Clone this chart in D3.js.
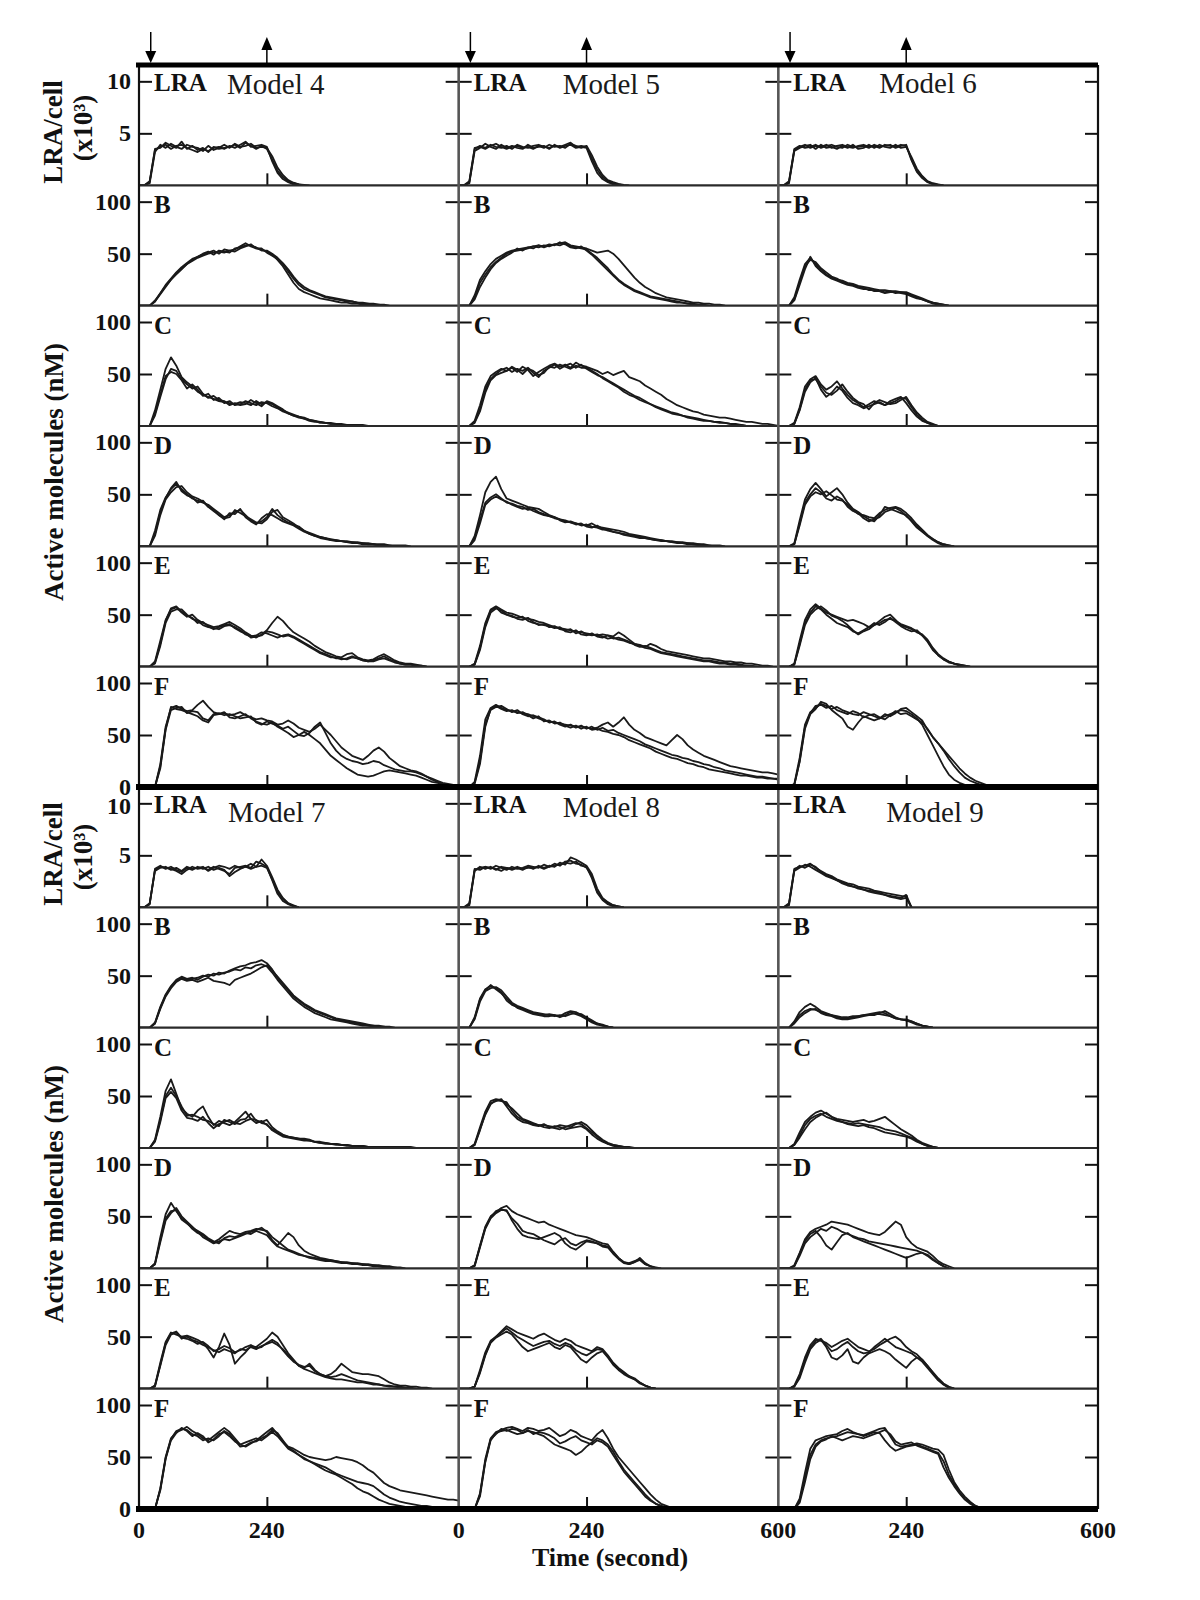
<!DOCTYPE html>
<html>
<head>
<meta charset="utf-8">
<script src="https://cdn.jsdelivr.net/npm/d3@7"></script>
<style>
  body { margin: 0; background: #fff; }
  svg { display: block; }
</style>
</head>
<body>
<script>
// time step of the sampled traces (seconds)
var timeStep = 10;
var arrowTimes = [22, 240];          // stimulus on / off arrows
var panelNames = ["LRA", "B", "C", "D", "E", "F"];
var modelNames = ["Model 4", "Model 5", "Model 6", "Model 7", "Model 8", "Model 9"];
var lraTicks = [5, 10];
var nmTicks = [50, 100];
var xTickLabels = [[0, 240], [0, 240, 600], [240, 600]];

// ---- Model 4 ----
var m4LRA = [
  [0,0,0.4,3.4,3.7,3.9,3.5,3.8,3.9,3.6,3.4,3.2,3.5,3.3,3.6,3.7,3.5,3.8,3.6,3.9,4.2,3.7,3.8,3.9,3.7,2.3,1.2,0.6,0.3,0.1,0],
  [0,0,0.2,3.2,3.9,3.6,4.0,3.7,3.5,3.9,3.7,3.6,3.3,3.8,3.4,3.6,3.9,3.6,4.0,3.7,3.8,4.0,3.6,3.7,3.6,2.8,1.7,1.0,0.5,0.25,0.1,0.05,0],
  [0,0,0.3,3.5,3.6,4.1,3.8,3.6,4.2,3.5,3.8,3.4,3.6,3.2,3.7,3.5,3.6,3.7,3.9,3.6,4.1,3.8,3.5,3.8,3.5,2.5,1.4,0.8,0.4,0.2,0.1,0]
];
var m4B = [
  [0,0,0,4,11,18,25,31,36,40,43,46,48,50,51,52,51,53,54,57,60,57,55,54,52,49,44,38,30,22,16,13,11,9,7,6,5,4,3,3,2,2,1,1,1,0],
  [0,0,0,5,12,20,26,32,37,41,45,47,50,52,49,53,52,51,55,56,58,58,56,53,53,50,46,41,35,28,22,18,15,13,11,9,8,7,6,5,4,3,3,2,2,1,1,0],
  [0,0,0,4,12,19,25,30,35,40,44,47,49,51,53,50,54,53,52,55,57,59,55,55,51,48,45,40,33,26,20,16,14,12,10,8,7,6,5,4,4,3,2,2,1,1,0]
];
var m4C = [
  [0,0,0,15,35,55,66,58,47,42,38,33,30,28,26,24,23,22,21,23,22,20,24,21,23,21,18,15,13,11,9,8,6,5,4,3,3,2,2,1,1,1,1,0],
  [0,0,0,12,30,48,52,50,44,36,40,35,29,31,25,27,22,24,20,21,24,22,20,23,22,19,17,14,12,10,8,7,5,4,4,3,2,2,1,1,1,0],
  [0,0,0,10,28,45,55,53,45,40,36,38,31,27,29,25,24,20,22,20,21,25,22,19,24,22,19,16,12,10,9,7,6,5,3,3,2,2,1,1,0]
];
var m4D = [
  [0,0,0,15,35,47,55,60,55,50,46,44,42,40,36,32,28,30,33,35,30,25,22,24,28,36,30,26,23,21,19,15,12,10,9,8,7,6,5,5,4,4,3,3,2,2,2,1,1,1,1,0],
  [0,0,0,10,30,45,52,57,58,52,48,46,43,38,35,30,26,32,31,36,28,24,21,27,31,30,27,24,22,20,17,14,12,10,8,7,6,5,5,4,4,3,3,2,2,1,1,1,0],
  [0,0,0,12,33,46,56,62,53,49,47,42,44,38,34,30,27,28,35,32,29,26,23,22,26,33,35,28,25,22,18,15,13,11,9,8,6,6,5,4,3,3,2,2,2,1,1,0]
];
var m4E = [
  [0,0,0,5,25,45,55,57,52,48,50,45,42,40,38,39,41,43,40,37,33,30,28,31,35,42,48,44,38,33,30,27,24,20,17,14,12,10,9,12,13,9,7,6,7,10,12,9,6,4,3,3,2,1,0],
  [0,0,0,3,20,42,53,55,55,50,46,44,40,38,37,36,39,40,38,35,31,29,30,33,32,30,28,30,31,29,26,23,20,17,14,12,10,8,8,7,9,8,6,5,5,7,8,6,4,3,2,2,1,1,0],
  [0,0,0,4,22,44,56,58,53,49,47,42,43,39,36,38,40,41,37,34,32,28,29,30,34,33,31,29,30,28,25,22,19,16,13,11,9,9,7,8,10,8,6,5,6,8,10,7,5,3,2,2,1,0]
];
var m4F = [
  [0,0,0,0,22,58,76,78,75,73,74,79,83,77,72,70,71,69,70,72,69,67,65,66,64,63,60,61,64,61,57,55,53,56,60,55,50,44,38,34,30,28,26,30,35,38,34,28,24,20,18,16,15,13,10,7,5,3,2,1,0],
  [0,0,0,0,18,55,74,76,77,71,73,72,66,64,70,71,69,70,68,66,67,68,62,60,63,61,59,56,58,54,50,49,52,58,62,52,42,35,30,27,25,24,22,23,25,24,21,19,17,16,15,15,14,12,10,8,6,4,3,2,1],
  [0,0,0,0,20,56,77,75,74,72,70,68,64,62,69,70,72,67,66,68,70,66,63,61,60,62,58,55,52,48,50,53,50,46,42,36,30,26,22,18,15,12,11,10,11,13,15,16,15,14,13,12,11,9,7,5,4,3,2,1,0]
];

// ---- Model 5 ----
var m5LRA = [
  [0,0,0.3,3.5,3.8,3.6,3.9,3.7,3.6,3.8,3.5,3.9,3.7,3.6,3.8,3.9,3.7,3.6,3.8,3.7,3.9,4.1,3.7,3.8,3.7,2.6,1.5,0.8,0.4,0.2,0.1,0],
  [0,0,0.2,3.3,3.6,4.0,3.7,3.5,3.9,3.6,3.8,3.6,3.5,3.9,3.6,3.7,3.8,3.5,3.9,3.6,3.8,3.9,3.6,3.7,3.6,2.3,1.2,0.6,0.3,0.1,0],
  [0,0,0.4,3.6,3.7,3.5,3.8,4.0,3.7,3.5,3.7,3.8,3.6,3.7,3.5,3.8,3.6,3.9,3.7,3.8,3.6,4.0,3.8,3.6,3.8,2.9,1.8,1.0,0.5,0.3,0.15,0.05,0]
];
var m5B = [
  [0,0,0,10,25,33,40,45,48,51,53,54,55,56,57,58,56,58,59,60,61,58,57,56,55,53,51,52,53,50,45,39,33,27,22,18,15,12,10,8,7,6,5,4,3,3,2,2,1,1,0],
  [0,0,0,8,22,30,37,42,46,50,52,53,54,55,57,56,58,57,59,58,60,57,56,55,54,50,46,41,36,30,25,21,18,15,13,11,9,8,7,6,5,4,3,2,2,1,1,0],
  [0,0,0,6,18,27,35,41,45,48,51,55,53,56,55,58,57,59,58,61,59,56,55,57,53,49,44,39,34,29,24,20,17,14,12,10,8,7,6,5,4,3,3,2,1,1,0]
];
var m5C = [
  [0,0,0,5,20,38,48,52,55,53,56,52,57,54,48,52,55,58,60,57,59,56,61,58,57,55,53,50,52,49,51,53,47,45,43,39,36,33,30,26,23,20,18,16,14,13,11,10,9,8,8,7,6,5,4,4,3,2,2,1,0],
  [0,0,0,4,16,35,45,50,54,56,52,55,53,56,51,47,53,56,59,55,58,60,56,59,55,52,49,47,44,41,38,35,32,29,27,24,21,19,17,15,13,12,10,9,8,7,6,5,4,4,3,2,2,1,0],
  [0,0,0,3,14,32,44,49,51,53,57,54,50,55,53,49,51,57,56,59,57,55,58,56,56,53,50,46,43,40,37,33,30,28,25,23,21,18,16,14,12,11,10,8,7,6,5,5,4,3,3,2,1,1,0]
];
var m5D = [
  [0,0,0,10,30,52,62,67,55,46,44,42,40,38,37,36,33,30,28,26,25,23,22,21,20,22,19,18,17,16,15,14,12,11,10,9,8,7,6,5,5,4,4,3,3,2,2,1,1,1,0],
  [0,0,0,8,25,42,47,50,46,42,41,39,38,35,36,33,31,29,27,26,24,23,21,22,19,18,20,17,15,14,13,12,11,10,9,8,7,6,6,5,4,4,3,3,2,2,1,1,0],
  [0,0,0,6,22,40,45,48,45,43,40,38,36,37,34,32,30,29,28,25,23,24,22,20,21,19,18,16,16,14,13,11,10,9,8,8,7,6,5,5,4,3,3,2,2,1,1,0]
];
var m5E = [
  [0,0,0,3,20,42,55,58,55,52,51,49,47,46,45,43,42,40,38,37,36,35,34,33,32,31,30,31,30,29,33,30,26,22,21,19,22,20,17,15,14,13,12,11,10,9,8,8,7,6,5,5,4,4,3,3,2,1,1,0],
  [0,0,0,2,16,38,52,56,54,50,48,47,48,44,42,41,40,39,37,38,34,33,35,31,30,32,29,28,30,27,28,26,24,21,19,20,18,16,14,13,12,11,10,9,8,7,6,6,5,4,4,3,3,2,1,1,0],
  [0,0,0,2,18,40,54,57,52,50,49,46,45,47,43,40,41,38,39,36,35,36,32,34,31,30,31,29,27,28,26,25,23,22,20,18,17,15,13,12,11,10,9,8,7,6,5,5,4,3,3,2,2,1,0]
];
var m5F = [
  [0,0,0,5,30,65,76,79,76,74,73,72,71,70,68,66,64,63,62,61,60,59,58,58,57,56,57,60,62,58,62,67,60,55,52,48,46,44,42,40,45,50,46,40,36,33,30,28,26,24,22,20,19,18,17,16,15,14,14,13,12],
  [0,0,0,4,25,60,74,77,78,75,72,74,70,68,69,67,65,62,63,60,58,60,57,59,56,58,55,57,54,55,52,50,48,46,44,41,39,37,35,33,31,30,28,27,25,24,22,21,19,18,16,15,14,13,12,11,10,10,9,8,8],
  [0,0,0,3,22,58,75,78,75,73,74,71,72,69,66,68,63,64,61,62,59,57,59,56,58,55,56,54,53,51,50,48,45,43,41,39,37,34,32,30,28,27,25,23,22,20,19,17,16,15,14,13,12,11,11,10,9,9,8,8,7]
];

// ---- Model 6 ----
var m6LRA = [
  [0,0,0.3,3.4,3.7,3.9,3.6,3.8,3.7,3.9,3.6,3.8,3.9,3.7,3.6,3.8,3.9,3.7,3.8,3.6,3.9,3.8,3.7,3.9,3.8,2.4,1.3,0.7,0.3,0.1,0],
  [0,0,0.2,3.3,3.6,3.8,3.9,3.5,3.9,3.6,3.7,3.5,3.8,3.6,3.9,3.5,3.6,3.9,3.6,3.9,3.7,3.6,3.9,3.6,3.7,2.7,1.6,0.9,0.4,0.2,0.1,0],
  [0,0,0.4,3.5,3.8,3.6,3.7,3.9,3.6,3.8,3.9,3.7,3.6,3.9,3.7,3.7,3.8,3.6,3.9,3.7,3.8,3.9,3.6,3.8,3.9,2.5,1.4,0.8,0.35,0.15,0.05,0]
];
var m6B = [
  [0,0,0,8,25,40,46,40,35,30,27,25,24,22,21,19,18,17,16,15,15,14,14,13,13,11,9,7,5,3,2,1,0],
  [0,0,0,6,22,38,44,42,36,32,28,26,23,21,20,18,17,15,15,14,13,14,12,13,12,10,8,6,4,3,2,1,0],
  [0,0,0,5,20,35,47,38,33,29,26,24,22,20,19,17,16,16,14,14,12,13,13,12,11,9,7,6,4,2,1,0]
];
var m6C = [
  [0,0,0,3,18,38,45,48,40,35,38,43,36,30,25,22,18,21,24,22,20,24,26,28,22,15,9,5,3,1,0],
  [0,0,0,2,15,33,42,46,35,28,32,38,34,27,22,20,17,19,21,23,20,22,24,27,26,18,11,6,3,1,0],
  [0,0,0,2,16,35,44,45,38,32,30,34,40,33,27,23,21,16,22,25,23,21,22,25,28,20,13,8,4,2,0]
];
var m6D = [
  [0,0,0,3,25,45,55,61,55,48,52,56,50,42,36,33,29,26,24,30,38,36,34,32,30,24,18,14,10,7,4,2,1,0],
  [0,0,0,2,20,40,48,52,50,53,49,45,44,40,35,31,30,28,27,32,35,37,38,36,32,27,21,16,11,7,4,2,1,0],
  [0,0,0,2,22,42,50,56,52,46,44,48,45,38,34,32,27,24,26,28,33,35,37,34,29,25,19,15,10,6,3,1,0]
];
var m6E = [
  [0,0,0,3,25,45,55,60,56,52,50,48,46,44,45,43,41,38,40,44,48,50,45,40,38,36,33,31,26,18,12,8,5,3,2,1,0],
  [0,0,0,2,20,40,50,55,58,54,49,47,44,40,35,31,34,36,40,42,45,46,44,41,39,37,34,30,24,16,11,7,4,3,1,0],
  [0,0,0,2,22,42,52,58,55,50,46,42,40,38,34,32,35,38,42,40,43,47,43,39,36,34,35,30,25,17,11,7,5,3,2,1,0]
];
var m6F = [
  [0,0,0,3,28,60,72,76,80,78,75,77,74,72,70,69,72,70,68,66,68,70,72,74,73,70,66,60,50,40,30,20,12,7,4,2,1,0],
  [0,0,0,2,24,56,70,75,82,80,74,70,66,58,55,62,68,66,64,66,70,68,71,75,76,72,68,64,55,48,42,35,27,20,14,9,6,4,2,1,0],
  [0,0,0,2,25,58,71,78,79,76,78,74,72,70,73,71,67,69,70,67,65,69,73,70,71,68,65,62,56,48,42,36,30,24,18,13,9,6,4,2,1,0]
];

// ---- Model 7 ----
var m7LRA = [
  [0,0,0.4,3.6,3.9,3.8,3.7,3.5,3.2,3.6,3.9,3.7,3.8,3.6,3.9,3.7,3.5,3.2,3.8,3.9,4.0,3.8,4.4,4.2,3.9,2.6,1.3,0.6,0.3,0.1,0],
  [0,0,0.3,3.5,3.8,3.9,3.6,3.8,3.5,3.9,3.7,3.8,3.9,3.5,3.8,4.0,3.9,3.7,4.0,3.8,3.9,4.2,3.9,4.6,4.0,2.9,1.7,0.9,0.4,0.2,0],
  [0,0,0.3,3.7,4.0,3.7,3.9,3.6,3.4,3.8,3.6,3.9,3.7,3.9,3.6,3.8,3.6,3.0,3.4,3.7,3.9,3.7,3.9,4.0,3.8,2.7,1.5,0.8,0.35,0.15,0]
];
var m7B = [
  [0,0,0,5,20,32,40,46,49,47,48,46,49,51,50,53,52,55,57,59,60,62,63,65,62,56,48,42,36,30,26,22,19,16,14,12,10,8,7,6,5,4,3,2,2,1,1,0],
  [0,0,0,4,18,30,38,44,47,45,46,44,46,48,45,44,43,41,46,48,50,52,55,58,60,55,49,43,37,31,27,23,20,17,15,13,11,9,8,7,6,5,4,3,2,2,1,1,0],
  [0,0,0,4,19,31,39,45,48,46,47,48,50,49,52,51,53,54,56,55,58,57,60,61,59,53,46,40,34,28,24,20,17,14,12,10,8,7,6,5,4,3,2,2,1,0]
];
var m7C = [
  [0,0,0,8,30,55,66,52,38,33,30,36,40,30,22,26,24,22,25,30,35,28,24,26,22,18,15,12,11,10,9,9,8,6,5,5,4,4,3,3,2,2,2,1,1,1,1,1,1,1,1,1,0],
  [0,0,0,6,25,48,54,48,36,29,28,26,30,24,19,23,25,27,24,23,26,28,27,24,23,17,14,11,10,9,8,7,7,6,5,4,4,3,3,2,2,2,1,1,1,1,0],
  [0,0,0,7,27,50,58,50,40,31,32,30,27,26,23,21,27,25,23,27,28,33,26,25,27,20,16,13,11,10,9,8,7,6,6,5,4,4,3,3,2,2,2,1,1,1,1,0]
];
var m7D = [
  [0,0,0,5,30,52,63,55,48,44,38,34,32,28,25,28,32,36,34,33,35,36,38,37,36,30,26,22,18,16,14,12,11,10,9,8,8,7,6,6,5,5,4,4,3,3,2,2,1,1,0],
  [0,0,0,4,25,46,53,58,50,45,40,35,30,27,24,26,28,27,29,31,33,35,37,39,35,27,22,28,34,30,22,17,14,12,10,9,8,7,6,5,5,4,4,3,3,2,2,1,1,0],
  [0,0,0,4,27,48,55,56,47,43,39,36,33,29,26,24,29,31,30,32,34,33,36,34,32,26,21,19,17,15,13,12,10,9,8,7,7,6,5,5,4,4,3,3,2,2,1,1,0]
];
var m7E = [
  [0,0,0,3,25,45,54,52,50,51,49,47,44,38,30,40,53,42,24,30,35,41,40,44,48,54,50,42,34,28,22,20,24,18,14,12,14,18,24,20,16,15,14,14,13,12,9,6,4,3,3,2,2,1,1,0],
  [0,0,0,2,22,42,52,54,48,50,47,45,42,40,37,35,38,36,34,38,37,40,38,41,43,45,42,38,32,27,22,19,17,15,13,11,10,9,9,8,7,6,6,5,4,4,3,3,2,2,1,1,0],
  [0,0,0,3,23,44,53,55,49,48,46,43,45,41,36,38,41,39,35,37,40,42,39,40,44,47,44,37,31,26,23,21,22,17,14,12,11,12,14,12,10,8,7,6,5,4,3,2,2,1,1,0]
];
var m7F = [
  [0,0,0,0,20,50,68,74,76,79,75,72,68,66,70,74,78,74,68,62,60,63,66,70,74,78,72,65,60,58,55,52,50,49,48,47,48,50,49,48,47,45,42,38,35,30,25,22,20,18,17,16,15,14,13,12,11,10,9,9,8],
  [0,0,0,0,18,48,66,73,78,75,70,73,70,64,67,72,74,70,65,62,64,66,68,66,70,74,70,64,58,55,52,48,46,44,42,40,37,34,32,30,28,26,25,24,22,18,14,11,9,7,6,5,4,3,3,2,2,1,1,1,0],
  [0,0,0,0,19,49,67,75,77,76,72,70,66,68,66,70,75,72,66,60,61,64,65,68,71,76,73,66,59,56,52,49,46,43,40,37,35,33,30,27,24,20,17,15,12,9,7,5,4,3,2,1,1,0]
];

// ---- Model 8 ----
var m8LRA = [
  [0,0,0.3,3.6,3.8,3.9,3.7,4.0,3.8,3.6,3.9,3.7,3.8,4.0,3.9,3.8,4.1,3.9,4.2,4.0,4.4,4.5,4.2,4.1,3.8,3.0,1.5,0.8,0.4,0.2,0.1,0],
  [0,0,0.2,3.5,3.9,3.7,3.9,3.6,3.9,3.8,3.6,3.8,3.6,3.9,3.7,4.0,3.8,4.0,3.9,4.3,4.1,4.8,4.6,4.3,4.0,3.2,1.8,0.9,0.5,0.2,0.1,0],
  [0,0,0.4,3.7,3.6,3.9,3.8,3.7,3.5,3.8,3.7,3.9,3.7,3.8,3.8,3.9,3.7,3.9,4.0,4.1,4.3,4.2,4.4,4.0,3.9,2.8,1.4,0.7,0.3,0.1,0]
];
var m8B = [
  [0,0,0,10,28,37,40,38,34,26,22,20,18,16,14,13,12,13,12,11,14,16,15,12,9,6,4,2,1,0],
  [0,0,0,8,25,35,38,39,36,30,24,21,19,17,15,14,13,12,11,12,11,13,14,13,10,7,4,3,1,0],
  [0,0,0,9,27,36,41,37,33,28,23,19,17,15,13,12,11,11,12,10,12,15,13,11,8,5,3,2,1,0]
];
var m8C = [
  [0,0,0,4,20,35,45,47,46,42,38,33,28,26,24,22,22,21,20,22,21,20,23,25,22,17,12,8,5,3,2,1,1,0],
  [0,0,0,3,18,32,42,46,45,44,36,30,27,25,23,22,20,19,21,20,18,19,20,21,18,13,9,6,4,2,1,1,0],
  [0,0,0,3,17,33,43,45,47,40,33,28,25,24,22,21,23,20,19,18,20,22,24,23,19,15,11,7,4,3,2,1,0]
];
var m8D = [
  [0,0,0,3,22,40,50,54,58,60,55,52,50,48,46,44,45,42,40,38,36,34,32,31,30,28,26,24,23,16,10,6,5,7,9,4,2,0],
  [0,0,0,2,20,38,48,53,56,56,46,38,32,30,29,28,30,32,34,31,24,20,18,22,26,25,24,21,20,14,9,5,4,6,10,5,2,0],
  [0,0,0,3,21,39,49,55,57,55,48,43,36,34,33,30,27,25,23,27,29,24,22,25,27,26,24,22,21,15,10,6,4,6,8,4,2,1,0]
];
var m8E = [
  [0,0,0,2,18,35,46,50,55,60,57,54,52,50,48,51,53,50,47,45,48,46,42,40,38,36,40,38,32,25,20,16,12,10,6,3,1,0],
  [0,0,0,2,15,32,44,49,52,55,52,46,40,36,38,40,42,44,40,38,42,40,34,28,25,30,34,36,30,23,18,14,11,9,5,3,1,0],
  [0,0,0,2,16,33,45,50,54,58,54,50,47,44,41,43,45,46,43,41,44,42,37,34,32,35,38,37,31,24,19,15,12,9,6,3,1,0]
];
var m8F = [
  [0,0,0,0,15,48,68,74,76,78,79,77,75,78,77,75,76,78,74,70,72,76,74,70,68,66,72,76,68,58,50,44,38,32,26,20,14,9,5,3,1,0],
  [0,0,0,0,12,45,66,73,75,76,74,72,73,75,74,72,70,66,62,60,58,56,52,55,60,64,68,66,62,55,46,38,32,26,20,14,9,5,3,1,0],
  [0,0,0,0,14,46,67,72,77,75,77,76,73,76,72,74,73,71,68,63,65,68,70,66,64,62,66,64,60,52,44,36,30,24,18,12,8,5,3,1,0]
];

// ---- Model 9 ----
var m9LRA = [
  [0,0,0.3,3.7,3.9,4.0,4.2,3.8,3.5,3.2,3.0,2.7,2.5,2.3,2.2,2.0,1.9,1.8,1.6,1.5,1.4,1.3,1.2,1.1,1.0,0],
  [0,0,0.2,3.5,3.8,4.1,3.9,3.6,3.3,3.0,2.8,2.6,2.4,2.2,2.0,1.9,1.7,1.6,1.5,1.4,1.2,1.1,1.0,0.9,1.2,0],
  [0,0,0.4,3.6,4.0,3.8,4.1,3.9,3.4,3.1,2.9,2.6,2.3,2.1,2.0,1.8,1.7,1.5,1.4,1.3,1.2,1.0,0.9,0.8,0.9,0]
];
var m9B = [
  [0,0,0,6,15,20,23,20,16,14,12,10,9,9,10,11,12,13,14,15,14,11,9,8,7,6,4,2,1,0],
  [0,0,0,5,12,16,18,17,15,13,12,11,10,10,11,11,12,12,13,13,12,11,9,8,8,6,4,2,1,0],
  [0,0,0,4,10,14,17,18,14,12,11,9,8,8,9,10,11,12,12,14,16,13,10,8,7,5,3,2,1,0]
];
var m9C = [
  [0,0,0,4,15,25,30,34,36,33,30,28,27,26,25,26,27,25,26,28,30,26,22,18,15,12,8,5,3,1,0],
  [0,0,0,3,12,22,28,31,33,30,28,26,25,24,23,24,23,22,21,20,18,17,16,14,12,10,7,4,2,1,0],
  [0,0,0,3,10,18,25,29,32,34,30,27,25,23,22,21,22,20,19,17,15,14,13,12,11,9,6,4,2,1,0]
];
var m9D = [
  [0,0,0,3,15,28,35,38,40,42,45,44,43,42,40,38,36,34,33,32,35,40,45,42,30,24,20,18,16,12,7,4,2,0],
  [0,0,0,2,14,26,33,36,30,22,18,25,32,34,30,28,26,24,22,20,18,16,14,12,10,12,14,15,13,9,5,2,0],
  [0,0,0,2,12,24,30,34,38,36,40,38,35,33,31,29,28,26,25,24,23,22,21,20,19,18,17,15,12,8,5,2,0]
];
var m9E = [
  [0,0,0,3,14,30,42,48,46,44,40,43,46,48,44,40,38,36,38,42,45,48,50,46,40,36,33,28,22,16,10,5,2,0],
  [0,0,0,2,10,25,38,44,47,40,30,28,32,38,26,24,30,34,36,38,36,33,28,24,20,26,30,28,22,15,9,4,1,0],
  [0,0,0,2,12,28,40,46,48,42,36,38,42,45,40,36,34,35,40,44,48,44,40,38,36,34,30,26,20,14,8,4,1,0]
];
var m9F = [
  [0,0,0,0,10,35,58,66,68,70,71,72,75,77,74,72,71,73,75,77,78,70,62,60,61,62,63,62,60,58,57,52,38,26,18,12,7,3,1,0],
  [0,0,0,0,8,30,52,62,66,68,69,70,72,74,73,72,70,72,74,73,66,60,56,58,60,61,62,60,58,56,54,46,33,24,16,10,6,3,1,0],
  [0,0,0,0,6,26,48,60,65,67,70,68,66,68,70,69,68,70,72,74,76,72,65,62,63,64,61,59,57,55,53,40,30,22,15,9,5,2,1,0]
];

var modelPanels = [
  [m4LRA, m4B, m4C, m4D, m4E, m4F],
  [m5LRA, m5B, m5C, m5D, m5E, m5F],
  [m6LRA, m6B, m6C, m6D, m6E, m6F],
  [m7LRA, m7B, m7C, m7D, m7E, m7F],
  [m8LRA, m8B, m8C, m8D, m8E, m8F],
  [m9LRA, m9B, m9C, m9D, m9E, m9F]
];

// layout
var width = 1200, height = 1600;
var colX = d3.scaleLinear().domain([0, 3]).range([139, 1098]);
var rowY = d3.scaleLinear().domain([0, 12]).range([65, 1509]);
var plotH = 104;     // pixels from 0 to top tick value
var tickLen = 13;
var modelLabelPos = [[88, 29], [104, 29], [101, 28], [89, 35], [104, 30], [108, 35]];
var serif = "'Liberation Serif', 'Times New Roman', serif";

var svg = d3.select("body").append("svg")
    .attr("width", width).attr("height", height)
    .style("background", "#fff");

var defs = svg.append("defs");
var plots = svg.append("g").attr("class", "plots");

var line = d3.line().curve(d3.curveLinear);

modelPanels.forEach(function (panels, k) {
    var col = k % 3, block = Math.floor(k / 3);
    var x = d3.scaleLinear().domain([0, 600]).range([colX(col), colX(col + 1)]);

    panels.forEach(function (traces, p) {
        var row = block * 6 + p;
        var top = rowY(row), bottom = rowY(row + 1);
        var maxTick = p === 0 ? 10 : 100;
        var y = d3.scaleLinear().domain([0, maxTick]).range([bottom, bottom - plotH]);
        var g = plots.append("g").attr("class", "panel");
        var clipId = "clip-" + k + "-" + p;
        defs.append("clipPath").attr("id", clipId).append("rect")
            .attr("x", x(0)).attr("y", top).attr("width", x(600) - x(0)).attr("height", bottom - top);

        // traces
        g.append("g").attr("clip-path", "url(#" + clipId + ")")
            .selectAll("path").data(traces).enter().append("path")
            .attr("d", function (d) {
                return line(d.map(function (v, i) { return [x(i * timeStep), y(v)]; }));
            })
            .attr("fill", "none")
            .attr("stroke", "#1a1a1a")
            .attr("stroke-width", 1.8)
            .attr("stroke-linejoin", "round");

        // inward ticks left and right, 240 s tick at the bottom
        var tv = p === 0 ? lraTicks : nmTicks;
        var la = g.append("g").attr("transform", "translate(" + x(0) + ",0)")
            .call(d3.axisRight(y).tickValues(tv).tickSize(tickLen).tickFormat(""));
        var ra = g.append("g").attr("transform", "translate(" + x(600) + ",0)")
            .call(d3.axisLeft(y).tickValues(tv).tickSize(tickLen).tickFormat(""));
        var ba = g.append("g").attr("transform", "translate(0," + bottom + ")")
            .call(d3.axisTop(x).tickValues([240]).tickSize(12).tickFormat(""));
        [la, ra, ba].forEach(function (a) {
            a.select(".domain").remove();
            a.selectAll("line").attr("stroke", "#111").attr("stroke-width", 2);
        });

        // panel letter
        g.append("text")
            .attr("x", x(0) + 15).attr("y", top + (p === 0 ? 26 : 28))
            .attr("font-family", serif).attr("font-weight", "bold")
            .attr("font-size", 25).attr("fill", "#111")
            .text(panelNames[p]);

        if (p === 0) {
            g.append("text")
                .attr("x", x(0) + modelLabelPos[k][0]).attr("y", top + modelLabelPos[k][1])
                .attr("font-family", serif).attr("font-size", 29).attr("fill", "#1a1a1a")
                .text(modelNames[k]);
        }

        // tick numbers on the left column
        if (col === 0) {
            var labs = tv.slice();
            if (p === 5) labs = [0].concat(labs);
            g.selectAll("text.yl").data(labs).enter().append("text")
                .attr("class", "yl")
                .attr("x", 131).attr("y", function (d) { return y(d); })
                .attr("dy", d => (p === 0 && d === 10 && block === 1) ? "0.45em" : "0.33em")
                .attr("text-anchor", "end")
                .attr("font-family", serif).attr("font-weight", "bold")
                .attr("font-size", 24).attr("fill", "#111")
                .text(function (d) { return d; });
        }
    });
});

// frame: row separators, columns, thick lines
var frame = svg.append("g").attr("class", "frame");
d3.range(1, 12).filter(function (r) { return r !== 6; }).forEach(function (r) {
    frame.append("line").attr("x1", colX(0)).attr("x2", colX(3))
        .attr("y1", rowY(r)).attr("y2", rowY(r))
        .attr("stroke", "#2a2a2a").attr("stroke-width", 2.2);
});
d3.range(0, 4).forEach(function (c) {
    frame.append("line").attr("x1", colX(c)).attr("x2", colX(c))
        .attr("y1", rowY(0)).attr("y2", rowY(12))
        .attr("stroke", (c === 0 || c === 3) ? "#111" : "#555")
        .attr("stroke-width", (c === 0 || c === 3) ? 2.2 : 2.6);
});
[0, 6, 12].forEach(function (r) {
    frame.append("line").attr("x1", colX(0) - 3).attr("x2", colX(3))
        .attr("y1", rowY(r)).attr("y2", rowY(r))
        .attr("stroke", "#000").attr("stroke-width", r === 0 ? 5 : 6);
});

// stimulus arrows on top
var arrows = svg.append("g").attr("class", "arrows");
d3.range(0, 3).forEach(function (c) {
    var x = d3.scaleLinear().domain([0, 600]).range([colX(c), colX(c + 1)]);
    var xd = x(arrowTimes[0]), xu = x(arrowTimes[1]);
    arrows.append("line").attr("x1", xd).attr("x2", xd).attr("y1", 32).attr("y2", 56)
        .attr("stroke", "#000").attr("stroke-width", 1.5);
    arrows.append("path").attr("d", "M" + (xd - 5.5) + ",51L" + (xd + 5.5) + ",51L" + xd + ",63Z").attr("fill", "#000");
    arrows.append("line").attr("x1", xu).attr("x2", xu).attr("y1", 46).attr("y2", 63)
        .attr("stroke", "#000").attr("stroke-width", 1.5);
    arrows.append("path").attr("d", "M" + (xu - 5.5) + ",50L" + (xu + 5.5) + ",50L" + xu + ",37Z").attr("fill", "#000");
});

// x tick labels at the bottom
var xl = svg.append("g").attr("class", "xlabels");
xTickLabels.forEach(function (vals, c) {
    var x = d3.scaleLinear().domain([0, 600]).range([colX(c), colX(c + 1)]);
    vals.forEach(function (v) {
        xl.append("text").attr("x", x(v)).attr("y", 1538)
            .attr("text-anchor", "middle")
            .attr("font-family", serif).attr("font-weight", "bold")
            .attr("font-size", 24).attr("fill", "#111")
            .text(v);
    });
});
svg.append("text").attr("x", 610).attr("y", 1566)
    .attr("text-anchor", "middle")
    .attr("font-family", serif).attr("font-weight", "bold")
    .attr("font-size", 26).attr("fill", "#111")
    .text("Time (second)");

// y axis titles
[0, 722].forEach(function (off) {
    svg.append("text").attr("transform", "translate(62," + (132 + off) + ") rotate(-90)")
        .attr("text-anchor", "middle")
        .attr("font-family", serif).attr("font-weight", "bold").attr("font-size", 27).attr("fill", "#111")
        .text("LRA/cell");
    svg.append("text").attr("transform", "translate(92," + (128 + off + (off ? 7 : 0)) + ") rotate(-90)")
        .attr("text-anchor", "middle")
        .attr("font-family", serif).attr("font-weight", "bold").attr("font-size", 27).attr("fill", "#111")
        .text("(x10³)");
    svg.append("text").attr("transform", "translate(63," + (472 + off) + ") rotate(-90)")
        .attr("text-anchor", "middle")
        .attr("font-family", serif).attr("font-weight", "bold").attr("font-size", 27).attr("fill", "#111")
        .text("Active molecules (nM)");
});
</script>
</body>
</html>
